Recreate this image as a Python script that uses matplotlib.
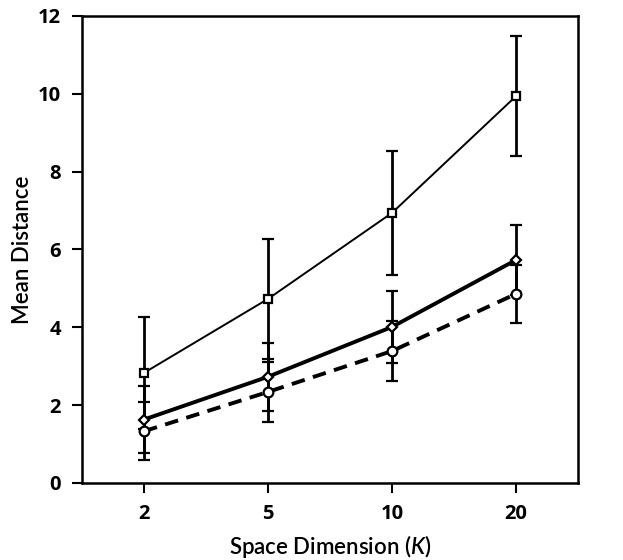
import matplotlib.pyplot as plt
import numpy as np

dims = ['2', '5', '10', '20']
square_mean = [2.83, 4.73, 6.94, 9.94]
square_err = [1.44, 1.54, 1.60, 1.55]
diamond_mean = [1.63, 2.73, 4.01, 5.73]
diamond_err = [0.85, 0.87, 0.92, 0.90]
circle_mean = [1.33, 2.34, 3.39, 4.86]
circle_err = [0.75, 0.76, 0.77, 0.75]

plt.rcParams['font.family'] = ['Open Sans', 'DejaVu Sans']
plt.rcParams['mathtext.fontset'] = 'custom'
plt.rcParams['mathtext.rm'] = 'Lato'
plt.rcParams['mathtext.it'] = 'Lato:italic:semibold'

x = np.arange(len(dims))

fig = plt.figure(figsize=(6.23, 5.6), dpi=100)
ax = fig.add_axes([0.1316, 0.1375, 0.7962, 0.834])

ebkw = dict(ecolor='black', elinewidth=2, capsize=4, capthick=2)
ax.errorbar(x, circle_mean, yerr=circle_err, color='black', lw=2.8, ls=(0, (3.5, 2.2)),
            marker='o', ms=7, mfc='white', mec='black', mew=1.6, **ebkw)
ax.errorbar(x, diamond_mean, yerr=diamond_err, color='black', lw=2.8,
            marker='D', ms=5.5, mfc='white', mec='black', mew=1.6, **ebkw)
ax.errorbar(x, square_mean, yerr=square_err, color='black', lw=1.4,
            marker='s', ms=6, mfc='white', mec='black', mew=1.6, **ebkw)

ax.set_xlim(-0.5, 3.5)
ax.set_ylim(0, 12)
ax.set_xticks(x)
ax.set_xticklabels(dims)
ax.set_yticks(range(0, 13, 2))
for lab in ax.get_xticklabels() + ax.get_yticklabels():
    lab.set_fontweight('bold')
    lab.set_fontsize(14.5)
ax.tick_params(direction='out', length=7, width=1.5, pad=8)
for s in ax.spines.values():
    s.set_linewidth(1.8)

lab_font = dict(family=['Lato', 'Open Sans', 'DejaVu Sans'], fontsize=16, fontweight='semibold')
ax.set_ylabel('Mean Distance', **lab_font)
ax.yaxis.set_label_coords(-0.099, 0.5)
ax.set_xlabel('Space Dimension ($K$)', **lab_font)
ax.xaxis.set_label_coords(0.5, -0.108)

fig.savefig('out.png', dpi=100)
